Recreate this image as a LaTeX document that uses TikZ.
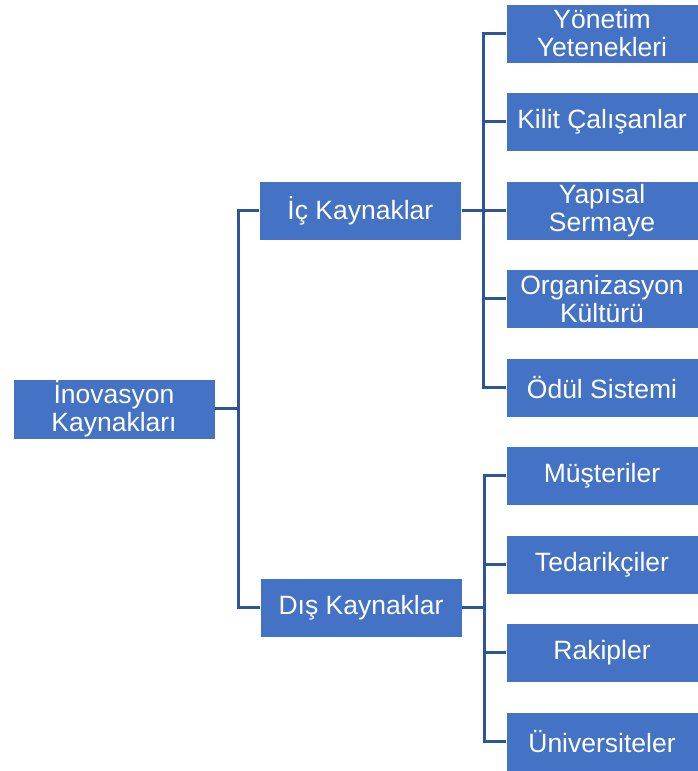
\documentclass[tikz,border=0pt]{standalone}
\usepackage{fontspec}
\setmainfont{Liberation Sans}
\usepackage{xcolor}
\definecolor{inovblue}{HTML}{4472C4}
\definecolor{inovline}{HTML}{2F5597}
\usepackage{tikz}
\usetikzlibrary{positioning}

\begin{document}
\begin{tikzpicture}[x=1pt, y=1pt,
  kaynak/.style={rectangle, fill=inovblue, draw=white, line width=0.6pt,
    text=white, align=center, inner sep=0pt, minimum height=59pt,
    font=\fontsize{26.5}{28}\selectfont},
  rootbox/.style={kaynak, minimum width=202pt, minimum height=60pt},
  midbox/.style={kaynak, minimum width=202pt},
  leafbox/.style={kaynak, minimum width=192pt},
  link/.style={draw=inovline, line width=3pt}
]
\useasboundingbox (0,0) rectangle (698,771);

\node[rootbox] (root) at (114,362) {İnovasyon\\Kaynakları};

% leaves
\node[leafbox] (yonetim) at (602,737.5) {Yönetim\\Yetenekleri};
\node[leafbox, below=28.9pt of yonetim] (kilit) {Kilit Çalışanlar};
\node[leafbox, below=28.9pt of kilit] (yapisal) {Yapısal\\Sermaye};
\node[leafbox, below=28.9pt of yapisal] (orgk) {Organizasyon\\Kültürü};
\node[leafbox, below=28.9pt of orgk] (odul) {Ödül Sistemi};
\node[leafbox, below=28.9pt of odul] (musteri) {Müşteriler};
\node[leafbox, below=28.9pt of musteri] (tedarik) {Tedarikçiler};
\node[leafbox, below=28.9pt of tedarik] (rakip) {Rakipler};
\node[leafbox, below=28.9pt of rakip] (univ) {Üniversiteler};

\node[midbox, left=44pt of yapisal] (ic) {İç Kaynaklar};
\node[midbox] (dis) at (361,163.5) {Dış Kaynaklar};

\draw[link] (root.east) -- ++(23,0) |- (ic.west);
\draw[link] (root.east) -- ++(23,0) |- (dis.west);

\foreach \leaf in {yonetim, kilit, yapisal, orgk, odul}
  \draw[link] (ic.east) -- ++(22,0) |- (\leaf.west);
\foreach \leaf in {musteri, tedarik, rakip, univ}
  \draw[link] (dis.east) -- ++(22,0) |- (\leaf.west);
\end{tikzpicture}
\end{document}
